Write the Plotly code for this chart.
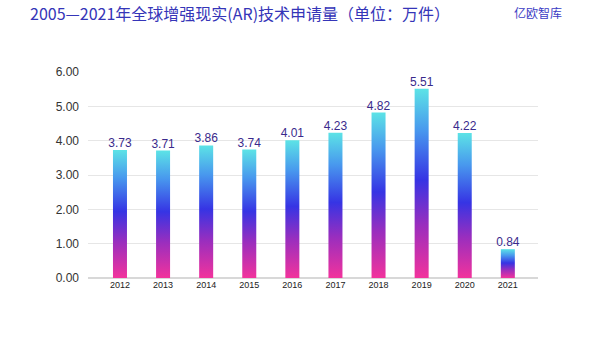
import plotly.graph_objects as go

years = ["2012", "2013", "2014", "2015", "2016", "2017", "2018", "2019", "2020", "2021"]
values = [3.73, 3.71, 3.86, 3.74, 4.01, 4.23, 4.82, 5.51, 4.22, 0.84]
y_ticks = [0, 1, 2, 3, 4, 5, 6]

title_text = "2005—2021年全球增强现实(AR)技术申请量（单位：万件）"
logo_text = "亿欧智库"

BAR_W = 0.325
grad = [[0.0, "#F2339C"], [0.28, "#9A2EBE"], [0.52, "#3634E4"],
        [0.78, "#4898EE"], [1.0, "#5CE3E6"]]

fig = go.Figure()
for i, (yr, v) in enumerate(zip(years, values)):
    x0, x1 = i - BAR_W / 2, i + BAR_W / 2
    fig.add_trace(go.Scatter(
        x=[x0, x1, x1, x0, x0], y=[0, 0, v, v, 0],
        mode="lines", line=dict(width=0), fill="toself",
        fillgradient=dict(type="vertical", colorscale=grad),
        hoverinfo="skip", showlegend=False, name=yr,
    ))

fig.add_trace(go.Scatter(
    x=list(range(len(years))), y=values, mode="text",
    text=[f"{v:.2f}" for v in values], textposition="top center",
    textfont=dict(family="Liberation Sans, Arial, sans-serif", size=12, color="#3A2A8C"),
    showlegend=False, hoverinfo="skip",
))

fig.update_layout(
    width=600, height=338,
    margin=dict(l=88, r=62, t=72, b=60),
    paper_bgcolor="white", plot_bgcolor="white",
    title=dict(text=title_text, x=30 / 600, xanchor="left", y=1 - 14 / 338, yanchor="middle",
               font=dict(family="Noto Sans CJK SC, sans-serif", size=16, color="#3535B8")),
    xaxis=dict(range=[-0.742, 9.70], tickmode="array", tickvals=list(range(len(years))),
               ticktext=years, showgrid=False, zeroline=False, showline=False, ticks="",
               tickfont=dict(family="Liberation Sans, Arial, sans-serif", size=9, color="#222222"),
               fixedrange=True),
    yaxis=dict(range=[0, 6], tickmode="array", tickvals=y_ticks,
               ticktext=[f"{t:.2f}" for t in y_ticks], showgrid=True, gridcolor="#E6E6E6",
               gridwidth=1, zeroline=True, zerolinecolor="#D8D8D8", showline=False, ticks="",
               ticklabelstandoff=8,
               tickfont=dict(family="Liberation Sans, Arial, sans-serif", size=12, color="#333333")),
    annotations=[dict(text=logo_text, xref="paper", yref="paper", x=(538 - 88) / 450,
                      y=1 + (72 - 13) / 206, xanchor="center", yanchor="middle", showarrow=False,
                      font=dict(family="Noto Sans CJK SC, sans-serif", size=12, color="#3B3CC4"))],
)

fig.write_html("out.html")
